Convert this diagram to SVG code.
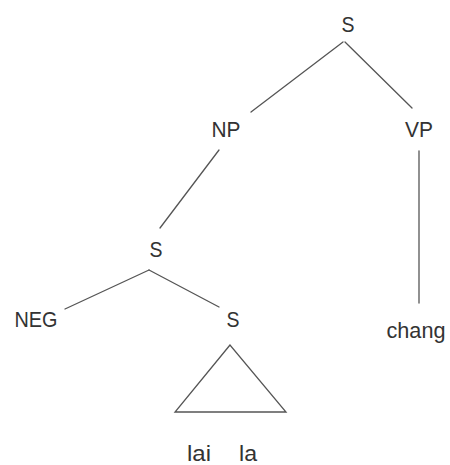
<svg xmlns="http://www.w3.org/2000/svg" width="450" height="465" viewBox="0 0 450 465">
  <style>
    .lbl { font-family: "Liberation Sans", Arial, sans-serif; font-size: 22px; fill: #333; text-anchor: middle; }
    .edge { stroke: #555; stroke-width: 1.3; fill: none; stroke-linecap: round; }
  </style>
  <rect width="450" height="465" fill="#fff"/>
  <g id="connectors">
    <line class="edge" x1="343" y1="42" x2="251" y2="112"/>
    <line class="edge" x1="345" y1="42" x2="412" y2="108"/>
    <line class="edge" x1="419" y1="151" x2="419" y2="303"/>
    <line class="edge" x1="219" y1="150" x2="160" y2="228"/>
    <line class="edge" x1="149" y1="270" x2="65" y2="309"/>
    <line class="edge" x1="149" y1="270" x2="219" y2="307"/>
    <polygon class="edge" points="230,345 175,412 286,412"/>
  </g>
  <g id="s-root"><text class="lbl" x="348" y="32" textLength="13" lengthAdjust="spacingAndGlyphs">S</text></g>
  <g id="np"><text class="lbl" x="226" y="137" textLength="29" lengthAdjust="spacingAndGlyphs">NP</text></g>
  <g id="vp"><text class="lbl" x="419" y="137" textLength="28" lengthAdjust="spacingAndGlyphs">VP</text></g>
  <g id="s-mid"><text class="lbl" x="156" y="257" textLength="13" lengthAdjust="spacingAndGlyphs">S</text></g>
  <g id="neg"><text class="lbl" x="36" y="327" textLength="43" lengthAdjust="spacingAndGlyphs">NEG</text></g>
  <g id="s-low"><text class="lbl" x="233" y="327" textLength="13" lengthAdjust="spacingAndGlyphs">S</text></g>
  <g id="chang"><text class="lbl" x="416" y="338" textLength="59" lengthAdjust="spacingAndGlyphs">chang</text></g>
  <g id="lai"><text class="lbl" x="199" y="461" textLength="24" lengthAdjust="spacingAndGlyphs">lai</text></g>
  <g id="la"><text class="lbl" x="248" y="461" textLength="18" lengthAdjust="spacingAndGlyphs">la</text></g>
</svg>
